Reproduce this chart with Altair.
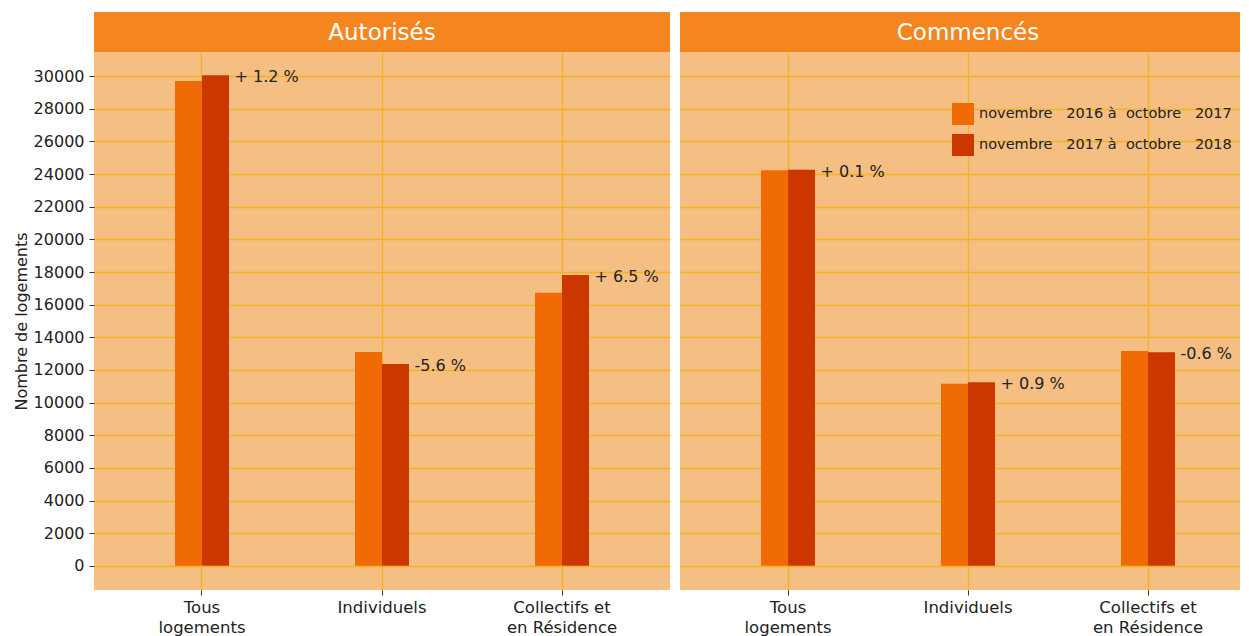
import altair as alt
import pandas as pd

FONT = "DejaVu Sans"
NB = "\u00a0"

categories = ["Tous\nlogements", "Individuels", "Collectifs et\nen Résidence"]
periods = [
    f"novembre{NB}{NB}{NB}2016 à{NB}{NB}octobre{NB}{NB}{NB}2017",
    f"novembre{NB}{NB}{NB}2017 à{NB}{NB}octobre{NB}{NB}{NB}2018",
]
panels = ["Autorisés", "Commencés"]

autorises_p1 = [29700, 13100, 16730]
autorises_p2 = [30060, 12370, 17820]
commences_p1 = [24230, 11150, 13160]
commences_p2 = [24260, 11250, 13080]
evol_autorises = ["+ 1.2 %", "-5.6 %", "+ 6.5 %"]
evol_commences = ["+ 0.1 %", "+ 0.9 %", "-0.6 %"]

y_ticks = [0, 2000, 4000, 6000, 8000, 10000, 12000, 14000, 16000,
           18000, 20000, 22000, 24000, 26000, 28000, 30000]

C_P1 = "#F06A05"
C_P2 = "#CC3700"
STRIP = "#F5861F"
PANEL = "#F5BE82"
GRID = "#F3B21E"
TXT = "#222222"

W1 = 576
W2 = 560
H = 538
SH = 40


def panel(name, v1, v2, evol, first, W, xscale):
    rows = []
    for c, a, b in zip(categories, v1, v2):
        rows.append({"cat": c, "period": periods[0], "val": a})
        rows.append({"cat": c, "period": periods[1], "val": b})
    df = pd.DataFrame(rows)
    df_lab = pd.DataFrame({"cat": categories, "period": [periods[1]] * 3,
                           "val": v2, "evol": evol})

    x = alt.X("cat:N", sort=categories, scale=xscale,
              axis=alt.Axis(title=None, labelAngle=0, domain=False,
                            grid=True, gridColor=GRID, gridWidth=1.3,
                            tickColor="#333333", tickSize=5, tickWidth=1,
                            labelFont=FONT, labelFontSize=16.5,
                            labelColor=TXT, labelPadding=4,
                            labelLineHeight=20, labelBaseline="top",
                            labelExpr="split(datum.label, '\\n')"))
    if first:
        yaxis = alt.Axis(title="Nombre de logements", values=y_ticks,
                         format="d", domain=False, grid=True,
                         gridColor=GRID, gridWidth=1.3,
                         tickColor="#333333", tickSize=5,
                         labelFont=FONT, labelFontSize=16, labelColor=TXT,
                         labelPadding=5, titleFont=FONT, titleFontSize=16,
                         titleFontWeight="normal", titleColor=TXT,
                         titlePadding=4)
    else:
        yaxis = alt.Axis(title=None, values=y_ticks, domain=False,
                         labels=False, ticks=False, grid=True,
                         gridColor=GRID, gridWidth=1.3)
    y = alt.Y("val:Q", scale=alt.Scale(domain=[-1480, 31480], nice=False,
                                       zero=False), axis=yaxis)
    xo = alt.XOffset("period:N", sort=periods,
                     scale=alt.Scale(domain=periods, paddingInner=0,
                                     paddingOuter=0))
    if first:
        legend = None
    else:
        legend = alt.Legend(title=None, orient="none", legendX=272,
                            legendY=SH + 51, symbolType="square",
                            symbolSize=484, symbolStrokeWidth=0,
                            labelFont=FONT, labelFontSize=14.5,
                            labelColor=TXT, labelOffset=5, rowPadding=9,
                            labelLimit=400)
    bars = alt.Chart(df).mark_bar(stroke=None).encode(
        x=x, xOffset=xo, y=y,
        color=alt.Color("period:N",
                        scale=alt.Scale(domain=periods, range=[C_P1, C_P2]),
                        legend=legend),
    )
    labels = alt.Chart(df_lab).mark_text(
        align="left", baseline="middle", dx=19, dy=2, fontSize=16,
        font=FONT, color=TXT
    ).encode(x=x, xOffset=xo, y=y, text="evol:N")
    main = alt.layer(bars, labels).properties(width=W, height=H)

    sdf = pd.DataFrame({"t": [name]})
    strip_bg = alt.Chart(sdf).mark_rect(color=STRIP).encode(
        x=alt.value(0), x2=alt.value(W), y=alt.value(0), y2=alt.value(SH))
    strip_tx = alt.Chart(sdf).mark_text(
        color="white", fontSize=23, font=FONT, baseline="middle"
    ).encode(text="t:N", x=alt.value(W1 / 2 if first else 576 / 2),
             y=alt.value(SH / 2 + 1))
    strip = alt.layer(strip_bg, strip_tx).properties(width=W, height=SH)
    return alt.vconcat(strip, main, spacing=0)


left = panel(panels[0], autorises_p1, autorises_p2, evol_autorises, True, W1,
             alt.Scale(paddingInner=0.7, paddingOuter=0.45))
# right panel is cut by the window edge: same band step, shifted start
right = panel(panels[1], commences_p1, commences_p2, evol_commences, False, W2,
              alt.Scale(paddingInner=0.7, paddingOuter=0.4056, align=0.555))

chart = alt.hconcat(left, right, spacing=10).resolve_scale(
    color="independent"
).resolve_legend(color="independent").properties(
    padding={"left": 5, "top": 4, "right": 0, "bottom": 0},
    background="white",
).configure_view(fill=PANEL, stroke=None)

chart.save("out.html", embed_options={"renderer": "svg", "actions": False})
